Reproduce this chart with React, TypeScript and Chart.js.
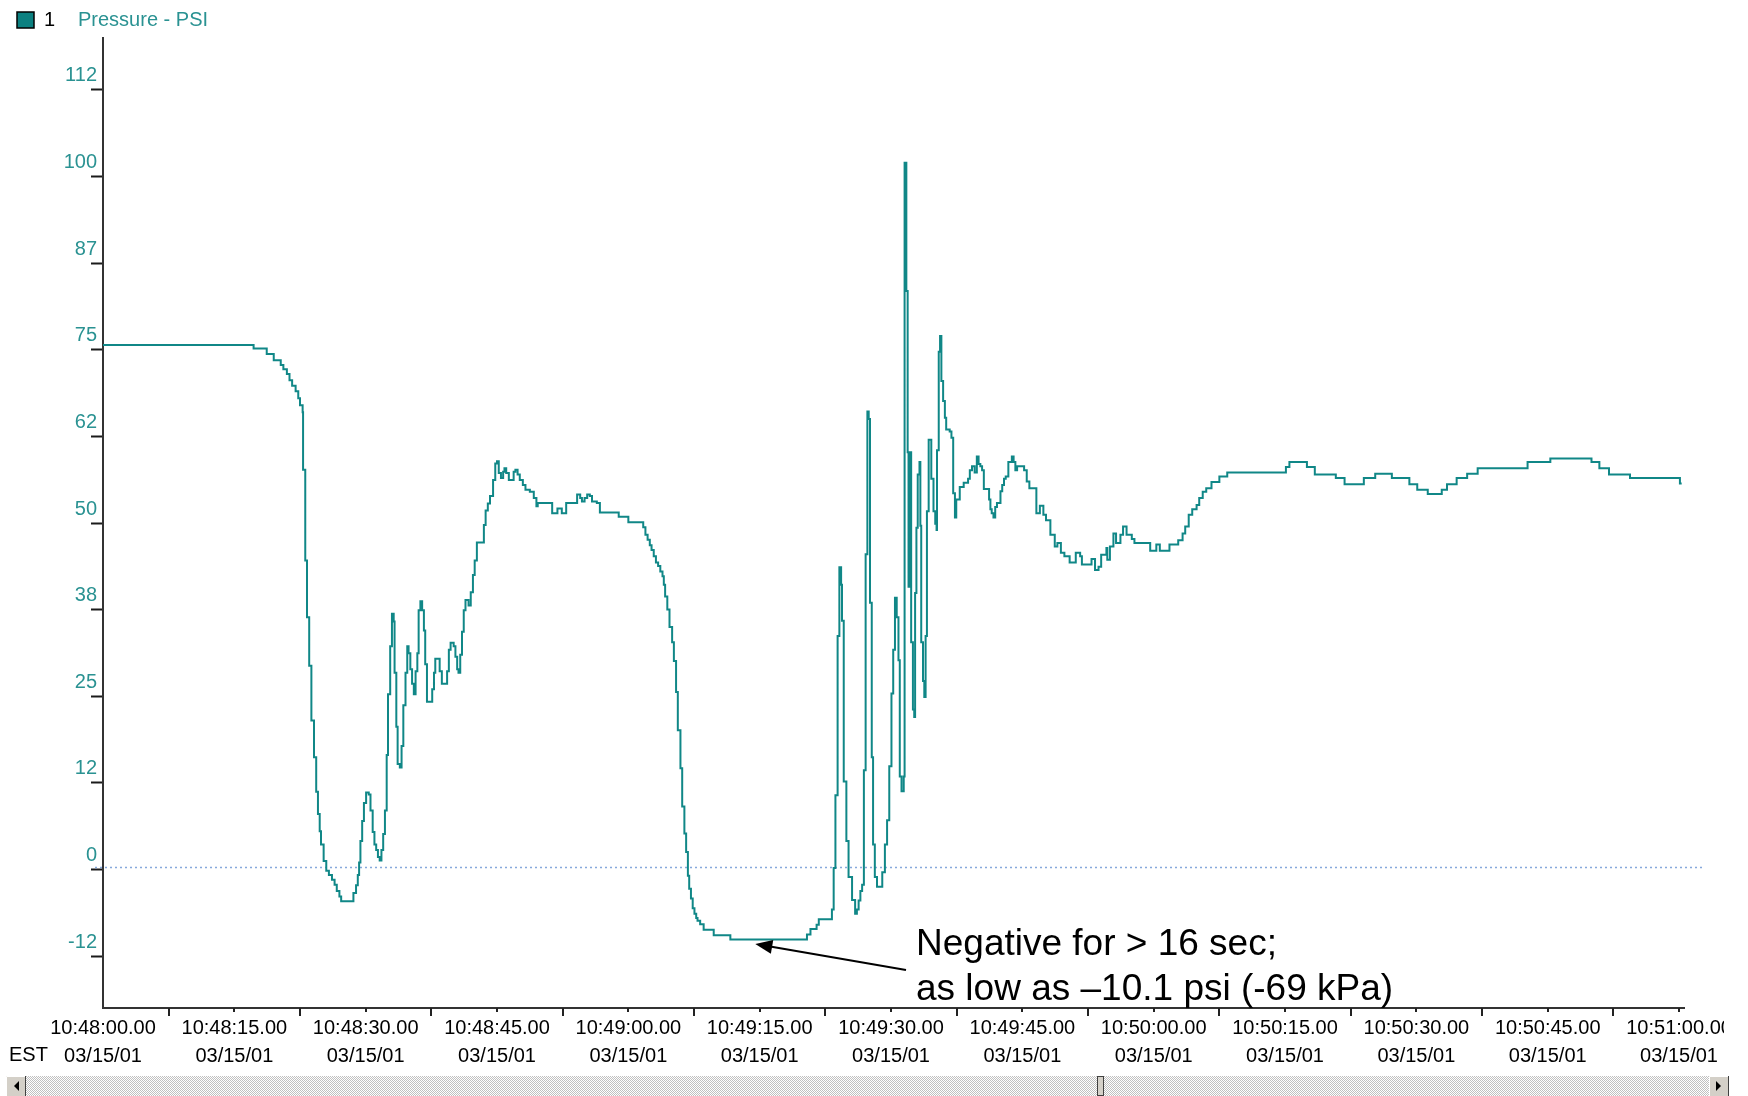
import { useEffect, useRef } from "react";
import { Chart, registerables } from "chart.js";

Chart.register(...registerables);

// ---- Data (seconds after 10:48:00.00, pressure in PSI; value holds until next change) ----
const timeSec = [
  0, 17.2, 18.7, 19.5, 20.3, 20.6, 21.0, 21.3, 21.6, 22.0, 22.3, 22.5, 22.8, 22.85, 23.1, 23.3, 23.55, 23.8, 24.1, 24.35,
  24.55, 24.75, 24.9, 25.2, 25.5, 25.8, 26.15, 26.45, 26.7, 27.0, 27.2, 28.6, 28.9, 29.1, 29.25, 29.4, 29.6, 29.8, 30.05, 30.35,
  30.55, 30.8, 31.0, 31.2, 31.4, 31.6, 31.8, 32.0, 32.2, 32.4, 32.55, 32.8, 33.0, 33.2, 33.3, 33.5, 33.65, 33.9, 34.1, 34.3,
  34.55, 34.75, 34.9, 35.1, 35.3, 35.5, 35.7, 35.9, 36.05, 36.25, 36.45, 36.65, 36.8, 37.0, 37.6, 37.8, 37.95, 38.45, 38.7, 39.3,
  39.5, 39.7, 40.05, 40.25, 40.45, 40.6, 40.8, 41.0, 41.2, 41.4, 41.75, 42.0, 42.25, 42.45, 42.7, 43.5, 43.7, 43.95, 44.2, 44.55,
  44.8, 45.0, 45.2, 45.45, 45.7, 45.85, 46.05, 46.35, 46.9, 47.1, 47.35, 47.6, 47.95, 48.25, 48.75, 49.2, 49.5, 49.65, 51.3, 51.9,
  52.4, 52.9, 54.15, 54.5, 54.7, 55.0, 55.3, 55.6, 55.85, 56.4, 56.75, 58.9, 60.0, 61.7, 61.95, 62.2, 62.45, 62.65, 62.9, 63.15,
  63.4, 63.65, 63.9, 64.05, 64.2, 64.45, 64.7, 65.0, 65.2, 65.45, 65.65, 65.95, 66.15, 66.4, 66.6, 66.8, 66.95, 67.15, 67.35, 67.55,
  67.75, 67.9, 68.2, 68.6, 69.75, 71.65, 80.4, 80.8, 81.5, 81.75, 83.25, 83.45, 83.65, 83.9, 84.1, 84.3, 84.4, 84.6, 84.9, 85.15,
  85.55, 85.9, 86.1, 86.3, 86.5, 86.7, 86.9, 87.1, 87.3, 87.45, 87.6, 87.8, 87.95, 88.15, 88.4, 89.0, 89.3, 89.55, 89.8, 90.05,
  90.25, 90.45, 90.65, 90.85, 91.0, 91.2, 91.45, 91.55, 91.75, 91.9, 92.0, 92.2, 92.3, 92.5, 92.65, 92.75, 92.9, 93.05, 93.25, 93.35,
  93.45, 93.65, 93.8, 93.95, 94.1, 94.3, 94.6, 94.85, 95.05, 95.2, 95.25, 95.45, 95.6, 95.75, 95.95, 96.15, 96.3, 96.7, 96.9, 97.1,
  97.3, 97.45, 97.85, 98.3, 98.8, 99.0, 99.25, 99.55, 99.8, 100.0, 100.2, 100.4, 100.6, 101.2, 101.35, 101.5, 101.7, 101.9, 102.1, 102.5,
  102.7, 102.9, 103.1, 103.4, 103.8, 104.0, 104.2, 104.4, 105.2, 105.5, 105.8, 106.6, 107.0, 107.4, 107.7, 108.2, 108.7, 109.0, 109.4, 109.8,
  110.4, 111.1, 111.6, 111.8, 112.9, 113.3, 113.7, 114.0, 114.6, 114.7, 115.0, 115.4, 115.7, 116.2, 116.5, 116.9, 117.5, 117.8, 119.6, 120.3,
  120.7, 121.8, 122.8, 123.3, 123.6, 124.0, 124.4, 124.9, 125.2, 125.6, 126.0, 126.6, 127.5, 128.4, 135.1, 135.5, 137.5, 138.4, 140.8, 141.8,
  144.0, 145.3, 147.2, 149.2, 150.1, 151.3, 152.9, 153.5, 154.6, 155.8, 157.0, 162.7, 165.3, 170.0, 170.9, 172.0, 174.4, 180.1, 180.3,
];

const pressurePsi = [
  75.7, 75.2, 74.4, 73.5, 72.8, 72.2, 71.5, 70.6, 69.8, 69.0, 68.0, 67.0, 66.0, 57.7, 44.6, 36.4, 29.4, 21.5, 16.2, 11.2,
  8.0, 5.5, 3.6, 1.2, -0.2, -0.8, -1.5, -2.2, -3.1, -3.9, -4.6, -3.4, -2.3, -0.8, 1.0, 4.1, 7.0, 9.6, 11.1, 10.8,
  8.5, 5.4, 3.6, 2.8, 1.8, 1.3, 2.8, 5.1, 8.5, 16.5, 25.3, 32.2, 36.9, 35.8, 28.4, 20.6, 15.2, 14.7, 17.8, 23.7,
  28.4, 32.2, 31.2, 28.9, 26.8, 25.3, 28.6, 31.2, 37.4, 38.7, 37.4, 34.5, 29.6, 24.2, 26.0, 28.4, 30.4, 28.6, 26.8, 28.6,
  31.7, 32.7, 32.2, 30.7, 28.9, 28.4, 31.0, 34.3, 37.4, 38.9, 38.1, 40.0, 42.5, 44.6, 47.2, 49.7, 51.8, 52.8, 53.9, 56.2,
  58.6, 58.9, 57.2, 56.5, 57.4, 57.9, 57.2, 56.2, 57.4, 57.7, 57.0, 56.2, 55.5, 54.8, 54.5, 53.6, 52.4, 52.9, 51.4, 52.1,
  51.4, 52.9, 54.1, 53.6, 53.1, 53.6, 54.1, 53.9, 53.1, 52.9, 51.5, 50.9, 50.1, 49.4, 48.3, 47.6, 46.8, 46.1, 45.2, 44.3,
  43.8, 43.0, 42.3, 41.1, 39.4, 37.5, 35.0, 32.8, 30.1, 25.6, 20.1, 14.6, 9.1, 5.2, 2.5, -0.9, -2.8, -4.2, -5.6, -6.4,
  -7.0, -7.4, -7.9, -8.7, -9.5, -10.1, -9.4, -8.6, -8.0, -7.2, -5.8, 0.2, 10.7, 33.7, 43.6, 41.1, 35.9, 12.7, 4.1, -1.1,
  -4.4, -6.4, -5.8, -4.5, -3.1, -2.2, 14.3, 45.5, 66.1, 65.0, 38.5, 16.2, 3.6, -1.1, -2.5, -0.4, 3.6, 7.1, 14.9, 25.4,
  31.7, 39.2, 36.4, 30.2, 13.4, 11.3, 13.4, 102.0, 83.5, 60.2, 40.8, 60.2, 32.8, 23.1, 22.0, 39.9, 49.3, 57.0, 58.8, 49.6,
  32.8, 27.2, 24.9, 33.7, 51.7, 62.0, 56.4, 51.7, 49.9, 49.0, 60.5, 74.7, 77.0, 70.5, 67.6, 65.2, 63.5, 63.2, 62.3, 54.3,
  50.8, 53.4, 55.2, 55.8, 56.4, 57.6, 58.2, 57.3, 59.6, 58.5, 58.2, 57.6, 54.9, 53.4, 52.0, 51.4, 50.8, 52.3, 52.9, 54.6,
  55.5, 56.4, 56.7, 58.8, 59.6, 58.8, 57.6, 58.2, 57.6, 56.0, 55.0, 51.4, 52.5, 51.2, 50.4, 48.3, 46.6, 47.1, 45.7, 45.2,
  44.3, 45.7, 45.2, 44.0, 44.8, 43.2, 43.7, 45.4, 46.4, 44.7, 46.6, 48.5, 47.1, 48.3, 49.5, 48.3, 47.7, 47.1, 46.0, 46.9,
  46.0, 46.9, 47.5, 48.5, 49.5, 51.2, 52.0, 52.6, 53.6, 54.5, 55.0, 55.9, 56.7, 57.3, 58.1, 58.8, 58.1, 57.0, 56.5, 55.6,
  56.5, 57.1, 56.5, 55.6, 54.8, 54.2, 54.8, 55.6, 56.5, 57.1, 57.9, 58.8, 59.3, 58.8, 57.9, 57.0, 56.5, 55.7, 55.7,
];

const seriesNumber = "1";
const seriesLabel = "Pressure - PSI";

const xTickSeconds = [0, 15, 30, 45, 60, 75, 90, 105, 120, 135, 150, 165, 180];
const xTimeLabels = [
  "10:48:00.00", "10:48:15.00", "10:48:30.00", "10:48:45.00", "10:49:00.00", "10:49:15.00", "10:49:30.00",
  "10:49:45.00", "10:50:00.00", "10:50:15.00", "10:50:30.00", "10:50:45.00", "10:51:00.00",
];
const xDateLabel = "03/15/01";
const timeZoneLabel = "EST";

const yTickValues = [-12.5, 0, 12.5, 25, 37.5, 50, 62.5, 75, 87.5, 100, 112.5];
const yTickLabels = ["-12", "0", "12", "25", "38", "50", "62", "75", "87", "100", "112"];

const annotationLines = ["Negative for > 16 sec;", "as low as \u201310.1 psi (-69 kPa)"];
const annotationTarget = { t: 74.5, v: -10.75 };

const FONT = "'Liberation Sans', Arial, Helvetica, sans-serif";
const TEAL_LINE = "#108787";
const TEAL_TEXT = "#2a9292";

const decorPlugin = {
  id: "decor",
  beforeDatasetsDraw(chart: any) {
    const { ctx, scales } = chart;
    const y0 = scales.y.getPixelForValue(0) - 2;
    ctx.save();
    ctx.strokeStyle = "#86a9dc";
    ctx.lineWidth = 1.5;
    ctx.setLineDash([2, 3]);
    ctx.beginPath();
    ctx.moveTo(95, y0);
    ctx.lineTo(1705, y0);
    ctx.stroke();
    ctx.restore();
  },
  afterDraw(chart: any) {
    const { ctx, scales, chartArea } = chart;
    const x = scales.x;
    const y = scales.y;
    const axisY = chartArea.bottom;
    ctx.save();

    // x tick marks: long at half-intervals, short at labelled positions
    ctx.strokeStyle = "#222";
    ctx.lineWidth = 2;
    for (let i = 1; i < xTickSeconds.length; i++) {
      const mid = (xTickSeconds[i - 1] + xTickSeconds[i]) / 2;
      const pm = Math.round(x.getPixelForValue(mid));
      ctx.beginPath();
      ctx.moveTo(pm, axisY);
      ctx.lineTo(pm, axisY + 8);
      ctx.stroke();
      const pl = Math.round(x.getPixelForValue(xTickSeconds[i]));
      ctx.beginPath();
      ctx.moveTo(pl, axisY);
      ctx.lineTo(pl, axisY + 4);
      ctx.stroke();
    }

    // clip last label like the window edge
    ctx.fillStyle = "#ffffff";
    ctx.fillRect(1724, axisY + 2, 24, 64);

    // EST
    ctx.fillStyle = "#000";
    ctx.font = `20px ${FONT}`;
    ctx.textBaseline = "middle";
    ctx.textAlign = "left";
    ctx.fillText(timeZoneLabel, 9, axisY + 47);

    // legend
    ctx.fillStyle = "#0b8080";
    ctx.fillRect(17, 12, 17, 16);
    ctx.strokeStyle = "#000";
    ctx.lineWidth = 1.5;
    ctx.strokeRect(17, 12, 17, 16);
    ctx.fillStyle = "#000";
    ctx.font = `20px ${FONT}`;
    ctx.fillText(seriesNumber, 44, 20);
    ctx.fillStyle = TEAL_TEXT;
    ctx.fillText(seriesLabel, 78, 20);

    // annotation
    const tipX = x.getPixelForValue(annotationTarget.t);
    const tipY = y.getPixelForValue(annotationTarget.v);
    const endX = 906;
    const endY = 970;
    const ang = Math.atan2(endY - tipY, endX - tipX);
    const headLen = 17;
    const headW = 7;
    ctx.strokeStyle = "#000";
    ctx.lineWidth = 2;
    ctx.beginPath();
    ctx.moveTo(tipX + Math.cos(ang) * headLen * 0.8, tipY + Math.sin(ang) * headLen * 0.8);
    ctx.lineTo(endX, endY);
    ctx.stroke();
    ctx.fillStyle = "#000";
    ctx.beginPath();
    ctx.moveTo(tipX, tipY);
    const bx = tipX + Math.cos(ang) * headLen;
    const by = tipY + Math.sin(ang) * headLen;
    ctx.lineTo(bx - Math.sin(ang) * headW, by + Math.cos(ang) * headW);
    ctx.lineTo(bx + Math.sin(ang) * headW, by - Math.cos(ang) * headW);
    ctx.closePath();
    ctx.fill();

    ctx.font = `37px ${FONT}`;
    ctx.textBaseline = "alphabetic";
    ctx.fillText(annotationLines[0], 916, 955);
    ctx.fillText(annotationLines[1], 916, 1000);

    // scrollbar
    const sbTop = 1076;
    const sbH = 20;
    const sbLeft = 6;
    const sbRight = 1729;
    const pat = document.createElement("canvas");
    pat.width = 2;
    pat.height = 2;
    const pc = pat.getContext("2d")!;
    pc.fillStyle = "#ffffff";
    pc.fillRect(0, 0, 2, 2);
    pc.fillStyle = "#c0c0c0";
    pc.fillRect(0, 0, 1, 1);
    pc.fillRect(1, 1, 1, 1);
    const pattern = ctx.createPattern(pat, "repeat");
    if (pattern) ctx.fillStyle = pattern;
    ctx.fillRect(sbLeft, sbTop, sbRight - sbLeft, sbH);

    const drawButton = (bx0: number, dir: number) => {
      ctx.fillStyle = "#d4d0c8";
      ctx.fillRect(bx0, sbTop, 20, sbH);
      ctx.strokeStyle = "#ffffff";
      ctx.lineWidth = 1;
      ctx.beginPath();
      ctx.moveTo(bx0 + 0.5, sbTop + sbH);
      ctx.lineTo(bx0 + 0.5, sbTop + 0.5);
      ctx.lineTo(bx0 + 20, sbTop + 0.5);
      ctx.stroke();
      ctx.strokeStyle = "#404040";
      ctx.beginPath();
      ctx.moveTo(bx0 + 19.5, sbTop);
      ctx.lineTo(bx0 + 19.5, sbTop + sbH);
      ctx.stroke();
      ctx.fillStyle = "#000";
      ctx.beginPath();
      const cx = bx0 + 10;
      const cy = sbTop + 10;
      ctx.moveTo(cx + dir * 3, cy - 5);
      ctx.lineTo(cx + dir * 3, cy + 5);
      ctx.lineTo(cx - dir * 2, cy);
      ctx.closePath();
      ctx.fill();
    };
    drawButton(sbLeft, 1);
    drawButton(sbRight - 20, -1);

    // thumb
    ctx.fillStyle = "#d4d0c8";
    ctx.fillRect(1097, sbTop, 6, sbH);
    ctx.strokeStyle = "#404040";
    ctx.lineWidth = 1;
    ctx.strokeRect(1097.5, sbTop + 0.5, 6, sbH - 1);

    ctx.restore();
  },
};

export default function App() {
  const canvasRef = useRef<HTMLCanvasElement | null>(null);

  useEffect(() => {
    const canvas = canvasRef.current;
    if (!canvas) return;
    document.body.style.margin = "0";
    Chart.defaults.font.family = FONT;

    const points = timeSec.map((t, i) => ({ x: t, y: pressurePsi[i] }));

    const chart = new Chart(canvas, {
      type: "line",
      data: {
        datasets: [
          {
            label: seriesLabel,
            data: points,
            stepped: "before",
            borderColor: TEAL_LINE,
            borderWidth: 2,
            pointRadius: 0,
            fill: false,
          },
        ],
      },
      options: {
        responsive: false,
        animation: false,
        events: [],
        layout: { padding: { left: 0, top: 38, right: 63.7, bottom: 20 } },
        plugins: {
          legend: { display: false },
          tooltip: { enabled: false },
        },
        scales: {
          x: {
            type: "linear",
            min: 0,
            max: 180.6,
            afterBuildTicks: (scale: any) => {
              scale.ticks = xTickSeconds.map((v) => ({ value: v }));
            },
            afterFit: (scale: any) => {
              scale.height = 68;
              scale.paddingLeft = 0;
              scale.paddingRight = 0;
            },
            grid: { display: true, drawOnChartArea: false, drawTicks: false },
            border: { display: true, color: "#333", width: 2 },
            ticks: {
              autoSkip: false,
              maxRotation: 0,
              minRotation: 0,
              padding: 6,
              color: "#000",
              font: { family: FONT, size: 20, lineHeight: 1.4 },
              callback: (value: any) => {
                const i = xTickSeconds.indexOf(Number(value));
                return i >= 0 ? [xTimeLabels[i], xDateLabel] : "";
              },
            },
          },
          y: {
            type: "linear",
            min: -20,
            max: 120,
            afterBuildTicks: (scale: any) => {
              scale.ticks = yTickValues.map((v) => ({ value: v }));
            },
            afterFit: (scale: any) => {
              scale.width = 103;
              scale.paddingTop = 0;
              scale.paddingBottom = 0;
            },
            grid: {
              display: true,
              drawOnChartArea: false,
              drawTicks: true,
              tickLength: 12,
              tickWidth: 2,
              tickColor: "#1a1a1a",
            },
            border: { display: true, color: "#333", width: 2 },
            ticks: {
              autoSkip: false,
              padding: -6,
              labelOffset: -14,
              color: TEAL_TEXT,
              font: { family: FONT, size: 20 },
              callback: (value: any) => {
                const i = yTickValues.indexOf(Number(value));
                return i >= 0 ? yTickLabels[i] : "";
              },
            },
          },
        },
      },
      plugins: [decorPlugin],
    });

    return () => chart.destroy();
  }, []);

  return (
    <div style={{ position: "fixed", left: 0, top: 0, width: 1748, height: 1096, background: "#ffffff" }}>
      <canvas ref={canvasRef} width={1748} height={1096} style={{ display: "block" }} />
    </div>
  );
}
